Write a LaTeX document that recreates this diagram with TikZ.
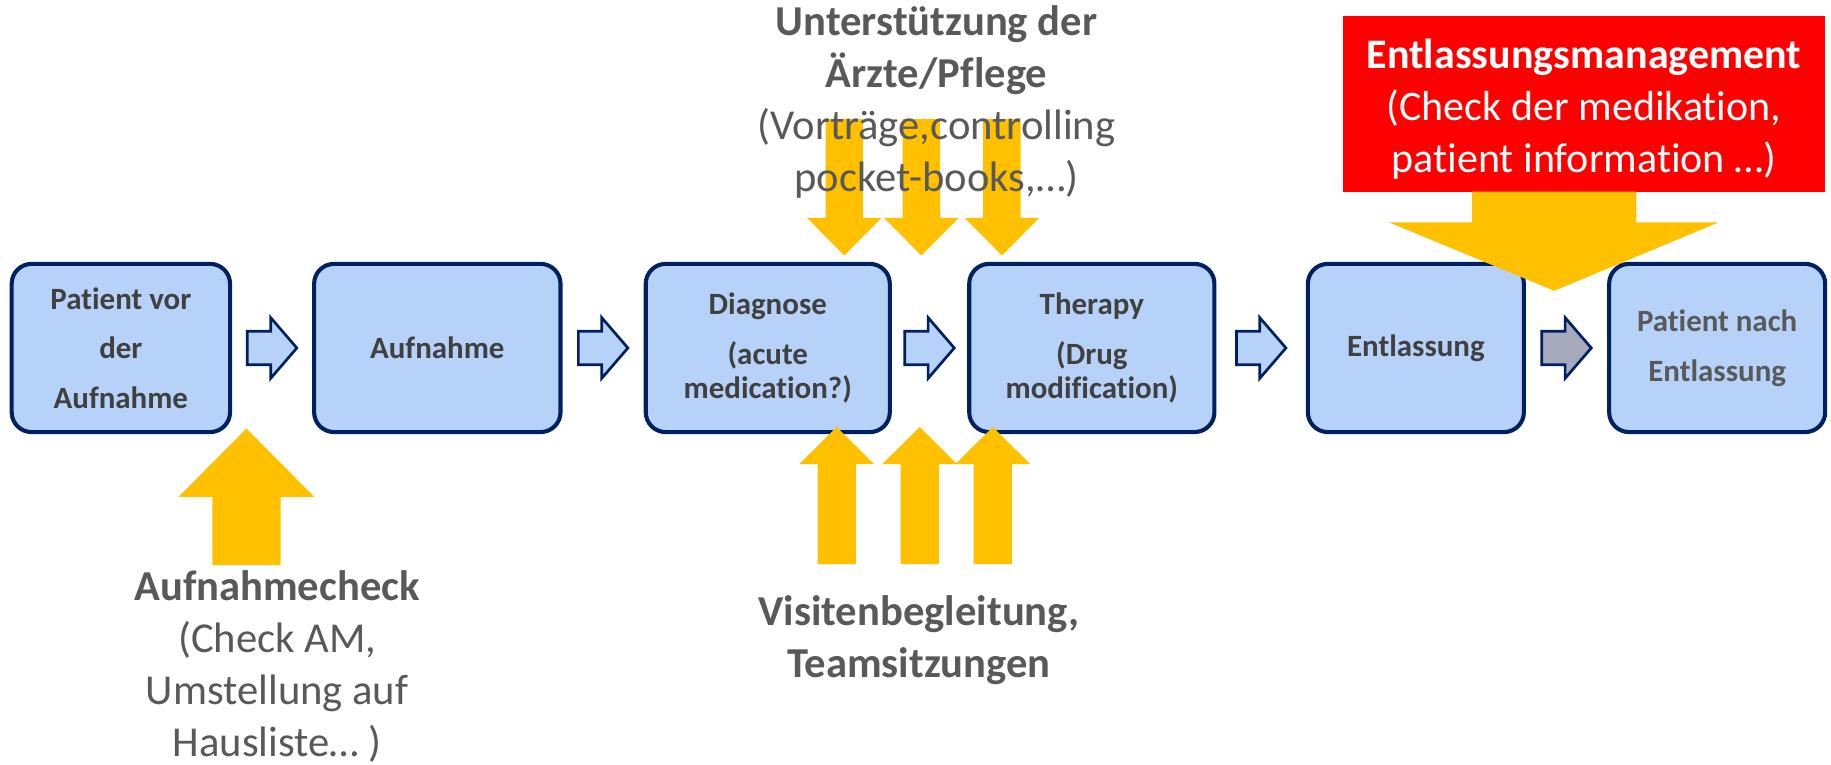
\documentclass[tikz,border=0pt]{standalone}
\usepackage{fontspec}
\setmainfont{Carlito}[Ligatures=NoCommon]
\usetikzlibrary{calc}
\definecolor{boxblue}{RGB}{183,210,249}
\definecolor{navy}{RGB}{0,32,96}
\definecolor{arrgrey}{RGB}{166,170,188}
\definecolor{ygold}{RGB}{255,192,0}
\definecolor{txtdark}{RGB}{64,64,64}
\definecolor{txtgrey}{RGB}{89,89,89}
\definecolor{redbox}{RGB}{255,0,0}
\tikzset{
  stepbox/.style={draw=navy, line width=3.5pt, fill=boxblue, rounded corners=17pt,
    minimum height=144pt, inner sep=0pt, align=center, text=txtdark,
    font=\fontsize{26.5}{42.5}\selectfont\bfseries},
  outtext/.style={align=center, text=txtgrey, inner sep=0pt,
    font=\fontsize{36.5}{44.5}\selectfont},
  yarrow/.style={fill=ygold, draw=none},
  pics/barrow/.style={code={
    \draw[navy, line width=2.3pt, fill=#1, line join=miter]
      (-21.2,-14.3) -- (-1.2,-14.3) -- (-1.2,-26) -- (21.2,0) -- (-1.2,26)
      -- (-1.2,14.3) -- (-21.2,14.3) -- cycle;}}
}
\begin{document}
\begin{tikzpicture}[x=1pt,y=-1pt]
\useasboundingbox (0,0) rectangle (1568,655.1);

% process boxes
\node[stepbox, minimum width=187pt] (b1) at (103.5,298) {Patient vor\\der\\Aufnahme};
\node[stepbox, minimum width=211pt] (b2) at (374.5,298) {Aufnahme};
\node[stepbox, minimum width=209pt, font=\fontsize{26.5}{29}\selectfont\bfseries] (b3) at (657.5,298) {Diagnose\\[14pt](acute\\medication?)};
\node[stepbox, minimum width=210pt, font=\fontsize{26.5}{29}\selectfont\bfseries] (b4) at (935,298) {Therapy\\[14pt](Drug\\modification)};
\node[stepbox, minimum width=185pt] (b5) at (1212.5,298) {Entlassung};

% yellow arrows from the top
\foreach \cx in {723,789,858}{
  \fill[yarrow] (\cx-16,102) -- (\cx+16,102) -- (\cx+16,186.5) -- (\cx+32,186.5)
    -- (\cx,218.8) -- (\cx-32,186.5) -- (\cx-16,186.5) -- cycle;
}
% yellow arrows from below
\foreach \cx in {716.5,787.6,850.2}{
  \fill[yarrow] (\cx-16.4,483) -- (\cx+16.4,483) -- (\cx+16.4,397.4) -- (\cx+32,397.4)
    -- (\cx,365.7) -- (\cx-32,397.4) -- (\cx-16.4,397.4) -- cycle;
}
% Aufnahmecheck arrow
\fill[yarrow] (181.8,483.9) -- (240.4,483.9) -- (240.4,425.4) -- (269,425.4)
  -- (211,367) -- (153,425.4) -- (181.8,425.4) -- cycle;

% Entlassungsmanagement
\node[fill=redbox, minimum width=413pt, minimum height=150.3pt, inner sep=0pt] (emgmt) at (1356.5,88.85) {};
\node[align=center, text=white, inner sep=0pt, font=\fontsize{36}{44.5}\selectfont] (emtext)
  at ($(emgmt.center)+(0,5)$)
  {\textbf{Entlassungsmanagement}\\(Check der medikation,\\patient information …)};
\fill[yarrow] (1260.6,164) -- (1401.3,164) -- (1401.3,190.5) -- (1471.6,190.5)
  -- (1331,249) -- (1189.7,190.5) -- (1260.6,190.5) -- cycle;

\node[stepbox, minimum width=185pt, text=txtgrey] (b6) at (1470.5,298) {Patient nach\\Entlassung};

% small block arrows between boxes
\pic at ($(b1.east)!0.5!(b2.west)$) {barrow=boxblue};
\pic at ($(b2.east)!0.5!(b3.west)$) {barrow=boxblue};
\pic at ($(b3.east)!0.5!(b4.west)$) {barrow=boxblue};
\pic at ($(b4.east)!0.5!(b5.west)$) {barrow=boxblue};
\pic at ($(b5.east)!0.5!(b6.west)$) {barrow=arrgrey};

% texts
\node[outtext] (support) at (802,87) {\textbf{Unterstützung der}\\\textbf{Ärzte/Pflege}\\(Vorträge,controlling\\pocket-books,…)};
\node[outtext] (acheck) at (237.3,571) {\textbf{Aufnahmecheck}\\(Check AM,\\Umstellung auf\\Hausliste… )};
\node[outtext, font=\fontsize{36.5}{44.5}\selectfont\bfseries] (visite) at (787,548) {Visitenbegleitung,\\Teamsitzungen};
\end{tikzpicture}
\end{document}
